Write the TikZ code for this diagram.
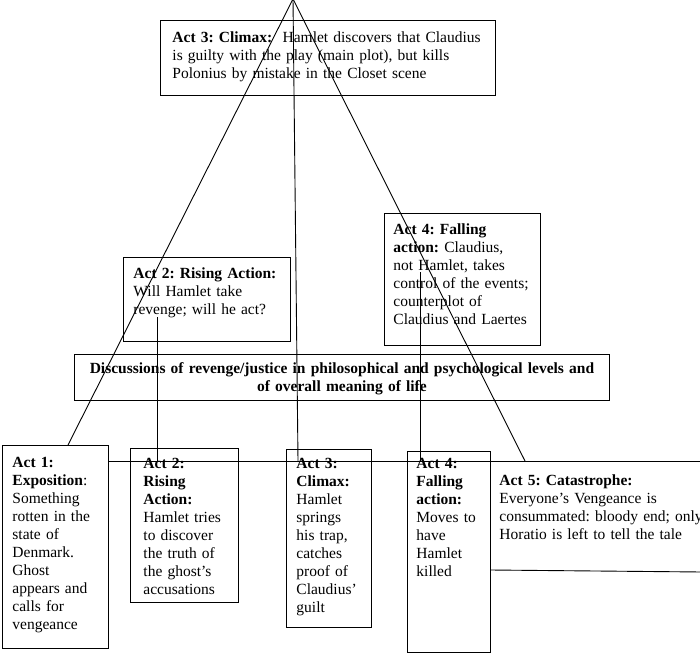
\documentclass[tikz,border=0pt]{standalone}
\usepackage{fontspec}
\setmainfont{Liberation Serif}
\frenchspacing
\begin{document}
\begin{tikzpicture}[x=1pt, y=-1pt, line width=0.9pt,
    actbox/.style={draw, anchor=north west, align=left, inner ysep=0pt,
        font=\fontsize{15.5pt}{18pt}\selectfont},
    acttext/.style={anchor=base west, align=left, inner sep=0pt,
        font=\fontsize{15.5pt}{18pt}\selectfont}]
    \useasboundingbox (0,0) rectangle (700,658);
    % Top of the pyramid
    \coordinate (apex) at (293,-1);
    \node[actbox, inner xsep=12pt, text width=311pt, text height=22pt, text depth=53pt] (climax) at (160,20)
        {\textbf{Act 3: Climax:}\ \ Hamlet discovers that Claudius\\
         is guilty with the play (main plot), but kills\\
         Polonius by mistake in the Closet scene};
    \node[actbox, inner xsep=10pt, text width=147pt, text height=21pt, text depth=63pt] (rise) at (123,257)
        {\textbf{Act 2: Rising Action:}\\ Will Hamlet take\\ revenge; will he act?};
    \node[actbox, inner xsep=9pt, text width=138pt, text height=21pt, text depth=111pt] (fall) at (384,213)
        {\textbf{Act 4: Falling}\\ \textbf{action:} Claudius,\\ not Hamlet, takes\\
         control of the events;\\ counterplot of\\ Claudius and Laertes};
    \node[actbox, align=center, inner xsep=5pt, text width=525pt, text height=19pt, text depth=27pt] (disc) at (74,354)
        {\textbf{Discussions of revenge/justice in philosophical and psychological levels and}\\
         \textbf{of overall meaning of life}};
    % Bottom row
    \node[actbox, inner xsep=10pt, text width=86pt, text height=22pt, text depth=181pt] (act1) at (2,445)
        {\textbf{Act 1:}\\ \textbf{Exposition}:\\ Something\\ rotten in the\\ state of\\
         Denmark.\\ Ghost\\ appears and\\ calls for\\ vengeance};
    \node[actbox, inner xsep=13pt, text width=82pt, text height=20pt, text depth=134pt] (act2) at (130,448)
        {\textbf{Act 2:}\\ \textbf{Rising}\\ \textbf{Action:}\\ Hamlet tries\\ to discover\\
         the truth of\\ the ghost’s\\ accusations};
    \node[actbox, inner xsep=10pt, text width=65pt, text height=19pt, text depth=159pt] (act3) at (286,449)
        {\textbf{Act 3:}\\ \textbf{Climax:}\\ Hamlet\\ springs\\ his trap,\\ catches\\
         proof of\\ Claudius’\\ guilt};
    \node[actbox, inner xsep=9pt, text width=65pt, text height=17pt, text depth=184pt] (act4) at (407,451)
        {\textbf{Act 4:}\\ \textbf{Falling}\\ \textbf{action:}\\ Moves to\\ have\\ Hamlet\\ killed};
    \node[acttext, text width=215pt] (act5) at (499,485)
        {\textbf{Act 5: Catastrophe:}\\ Everyone’s Vengeance is\\
         consummated: bloody end; only\\ Horatio is left to tell the tale};
    % Time line and box of act 5
    \coordinate (tlend) at (702,461);
    \draw ([yshift=-16pt]act1.north east) -- (tlend);
    \draw (act4.east |- 0,570) -- (702,572);
    % Lines from the top
    \draw (apex) -- ([xshift=66pt]act1.north west);
    \draw (apex) -- (525,0 |- tlend);
    \draw (apex) -- ([xshift=12pt]act3.north west |- tlend);
    % Lines between the acts
    \coordinate (v2) at (157,317);
    \coordinate (v4) at (420,272);
    \draw (v2) -- (v2 |- tlend);
    \draw (v4) -- (v4 |- tlend);
\end{tikzpicture}
\end{document}
